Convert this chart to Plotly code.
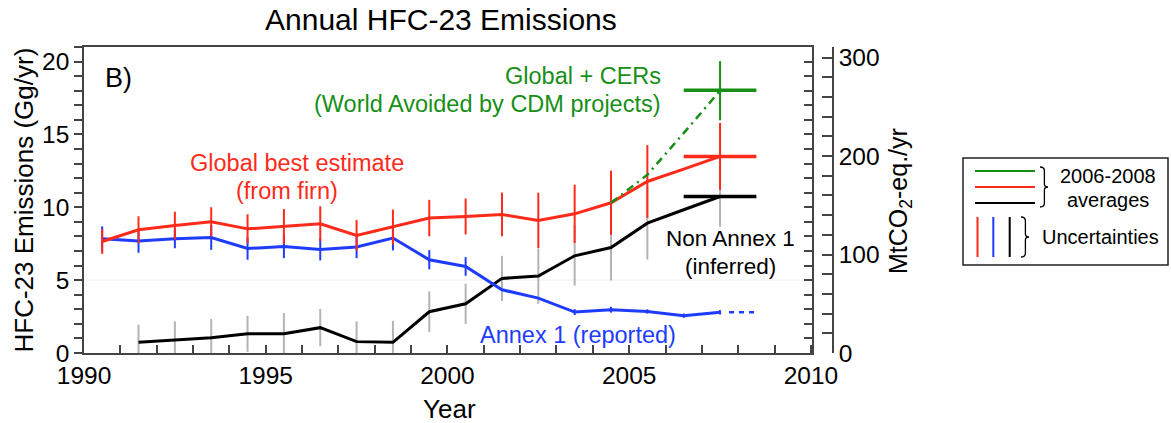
import plotly.graph_objects as go

# ---------------- data ----------------
years = [1990.5, 1991.5, 1992.5, 1993.5, 1994.5, 1995.5, 1996.5, 1997.5, 1998.5,
         1999.5, 2000.5, 2001.5, 2002.5, 2003.5, 2004.5, 2005.5, 2006.5, 2007.5]

global_best = [7.65, 8.46, 8.75, 9.0, 8.52, 8.68, 8.87, 8.07, 8.64,
               9.26, 9.37, 9.51, 9.1, 9.55, 10.31, 11.77, 12.62, 13.49]
global_err = [0.85, 0.92, 0.95, 1.0, 1.0, 1.2, 1.2, 1.05, 1.2,
              1.25, 1.23, 1.5, 1.9, 2.0, 2.2, 2.5, 0, 2.3]

annex1 = [7.84, 7.68, 7.84, 7.93, 7.17, 7.31, 7.11, 7.27, 7.89,
          6.4, 5.94, 4.34, 3.77, 2.81, 2.97, 2.85, 2.56, 2.79]
annex1_err = [0.85, 0.8, 0.65, 0.85, 0.77, 0.8, 0.76, 0.76, 0.85,
              0.66, 0.64, 0, 0, 0.2, 0.2, 0.15, 0.15, 0.15]

non_annex1 = [None, 0.73, 0.89, 1.05, 1.32, 1.32, 1.74, 0.78, 0.73,
              2.83, 3.38, 5.12, 5.28, 6.67, 7.24, 8.91, 9.83, 10.74]
non_annex1_err = [0, 1.21, 1.28, 1.28, 1.24, 1.42, 1.28, 1.39, 1.48,
                  1.4, 1.38, 1.55, 1.9, 2.05, 2.26, 2.5, 0, 2.06]

cer_years = [2004.5, 2005.5, 2006.5, 2007.5]
global_cer = [10.31, 12.23, 15.09, 18.0]
global_cer_err = [0, 0, 0, 2.03]

annex1_ext_years = [2007.5, 2008.5]
annex1_ext = [2.79, 2.79]

avg_years = [2006.5, 2008.5]
avg_cer = 18.04
avg_global = 13.49
avg_non_annex1 = 10.74

GWP = 14.8  # Gg HFC-23 -> MtCO2-eq
y_max = 21.0

RED = "#ff2a1a"
BLUE = "#1e3cff"
GREEN = "#178f17"
BLACK = "#000000"
GRAY = "#b4b4b4"
AX = "#444444"
FONT = "Liberation Sans, Arial, sans-serif"

# ---------------- geometry helpers (layout only) ----------------
W, H = 1171, 423
ML, MR, MT, MB = 84, 200, 47, 70
PW = W - ML - MR
PH = H - MT - MB


def px(xpix):
    return (xpix - ML) / PW


def py(ypix):
    return (H - MB - ypix) / PH


fig = go.Figure()

# Non Annex 1 (black, gray error bars)
fig.add_trace(go.Scatter(
    x=years, y=non_annex1, mode="lines", line=dict(color=BLACK, width=3),
    error_y=dict(type="data", array=non_annex1_err, color=GRAY, thickness=2, width=0),
    showlegend=False, cliponaxis=False))

# Annex 1 (blue)
fig.add_trace(go.Scatter(
    x=years, y=annex1, mode="lines", line=dict(color=BLUE, width=3),
    error_y=dict(type="data", array=annex1_err, color=BLUE, thickness=2, width=0),
    showlegend=False))
fig.add_trace(go.Scatter(
    x=annex1_ext_years, y=annex1_ext, mode="lines",
    line=dict(color=BLUE, width=2.5, dash="0px,9px,5px,5px,5px,5px,5px,5px,5px,100px"),
    showlegend=False))

# Global best estimate (red)
fig.add_trace(go.Scatter(
    x=years, y=global_best, mode="lines", line=dict(color=RED, width=3),
    error_y=dict(type="data", array=global_err, color=RED, thickness=2, width=0),
    showlegend=False))

# Global + CERs (green dash-dot)
fig.add_trace(go.Scatter(
    x=cer_years, y=global_cer, mode="lines",
    line=dict(color=GREEN, width=2.5, dash="8px,5px,2px,5px"),
    error_y=dict(type="data", array=global_cer_err, color=GREEN, thickness=2, width=0),
    showlegend=False))

# 2006-2008 averages
for val, col in [(avg_cer, GREEN), (avg_global, RED), (avg_non_annex1, BLACK)]:
    fig.add_trace(go.Scatter(
        x=avg_years, y=[val, val], mode="lines", line=dict(color=col, width=3.5),
        showlegend=False))

# faint line at 5
fig.add_shape(type="line", xref="x", yref="y", x0=1990, x1=2010.03, y0=5, y1=5,
              line=dict(color="#efefef", width=1), layer="below")

xdom = [0, px(812)]

fig.update_layout(
    width=W, height=H,
    margin=dict(l=ML, r=MR, t=MT, b=MB),
    paper_bgcolor="white", plot_bgcolor="white",
    font=dict(family=FONT, color="black", size=24),
    xaxis=dict(
        domain=xdom, range=[1990, 2010.03], dtick=5, tick0=1990,
        ticks="inside", ticklen=8, tickwidth=1.5, tickcolor=AX,
        minor=dict(dtick=1, ticks="inside", ticklen=8, tickwidth=1.5, tickcolor=AX),
        showline=True, linecolor=AX, linewidth=1.5, mirror=True,
        showgrid=False, zeroline=False, tickfont=dict(size=24.5),
    ),
    yaxis=dict(
        range=[0, y_max], dtick=5, tick0=0,
        ticks="outside", ticklen=8, tickwidth=1.5, tickcolor=AX,
        minor=dict(dtick=1, ticks="outside", ticklen=8, tickwidth=1.5, tickcolor=AX),
        showline=True, linecolor=AX, linewidth=1.5,
        showgrid=False, zeroline=False, tickfont=dict(size=24.5),
    ),
    yaxis3=dict(
        range=[0, y_max], overlaying="y", side="right", anchor="x",
        dtick=1, ticks="inside", ticklen=8, tickwidth=1.5, tickcolor=AX,
        showticklabels=False, showline=True, linecolor=AX, linewidth=1.5,
        showgrid=False, zeroline=False,
    ),
    yaxis2=dict(
        range=[0, y_max * GWP], overlaying="y", side="right", anchor="free",
        position=px(833), dtick=100, tick0=0,
        ticks="inside", ticklen=10, tickwidth=1.5, tickcolor=AX,
        minor=dict(dtick=20, ticks="inside", ticklen=10, tickwidth=1.5, tickcolor=AX),
        showline=True, linecolor=AX, linewidth=1.5,
        showgrid=False, zeroline=False, tickfont=dict(size=24.5),
    ),
)

# invisible traces to activate extra axes
fig.add_trace(go.Scatter(x=[1990], y=[0], yaxis="y2", mode="lines",
                         line=dict(width=0), showlegend=False, hoverinfo="skip"))
fig.add_trace(go.Scatter(x=[1990], y=[0], yaxis="y3", mode="lines",
                         line=dict(width=0), showlegend=False, hoverinfo="skip"))

ann = []


def add_text(text, x, y, size, color="black", xanchor="center", xref="paper", yref="paper",
             angle=0):
    ann.append(dict(text=text, x=x, y=y, xref=xref, yref=yref, showarrow=False,
                    xanchor=xanchor, yanchor="middle", textangle=angle,
                    font=dict(size=size, color=color, family=FONT)))


# titles
add_text("Annual HFC-23 Emissions", px(441), py(19), 30)
add_text("Year", px(449), py(409), 26)
add_text("HFC-23 Emissions (Gg/yr)", px(23.5), py(200), 26, angle=-90)
add_text("MtCO<sub>2</sub>-eq./yr", px(900), py(201), 25, angle=-90)

# in-plot labels (data coordinates)
add_text("B)", 1990.96, 18.89, 27, xref="x", yref="y")
add_text("Global + CERs", 2005.93, 19.02, 23.5, GREEN, xanchor="right", xref="x", yref="y")
add_text("(World Avoided by CDM projects)", 2005.93, 17.1, 23.5, GREEN, xanchor="right",
         xref="x", yref="y")
add_text("Global best estimate", 1995.86, 13.05, 23.5, RED, xref="x", yref="y")
add_text("(from firn)", 1995.59, 11.15, 23.5, RED, xref="x", yref="y")
add_text("Non Annex 1", 2007.8, 7.84, 22.5, BLACK, xref="x", yref="y")
add_text("(inferred)", 2007.8, 5.94, 22.5, BLACK, xref="x", yref="y")
add_text("Annex 1 (reported)", 2003.59, 1.25, 23.5, BLUE, xref="x", yref="y")

# legend box (drawn)
shapes = []
shapes.append(dict(type="rect", xref="paper", yref="paper", x0=px(963), x1=px(1168),
                   y0=py(265), y1=py(158), line=dict(color="#222222", width=1.5),
                   fillcolor="white"))
for ypix, col in [(171, GREEN), (187, RED), (203, BLACK)]:
    shapes.append(dict(type="line", xref="paper", yref="paper", x0=px(975), x1=px(1035),
                       y0=py(ypix), y1=py(ypix), line=dict(color=col, width=2)))
for xpix, col in [(977.5, RED), (993.3, BLUE), (1009.7, BLACK)]:
    shapes.append(dict(type="line", xref="paper", yref="paper", x0=px(xpix), x1=px(xpix),
                       y0=py(217), y1=py(257), line=dict(color=col, width=2)))


def brace(x0, ytop, ybot, w=8):
    ym = (ytop + ybot) / 2
    xm = x0 + w * 0.55
    pts = [
        f"M {px(x0)},{py(ytop)}",
        f"Q {px(xm)},{py(ytop)} {px(xm)},{py(ytop + 4)}",
        f"L {px(xm)},{py(ym - 3)}",
        f"Q {px(xm)},{py(ym)} {px(x0 + w)},{py(ym)}",
        f"Q {px(xm)},{py(ym)} {px(xm)},{py(ym + 3)}",
        f"L {px(xm)},{py(ybot - 4)}",
        f"Q {px(xm)},{py(ybot)} {px(x0)},{py(ybot)}",
    ]
    return dict(type="path", xref="paper", yref="paper", path=" ".join(pts),
                line=dict(color="black", width=1.3))


shapes.append(brace(1040, 167, 207))
shapes.append(brace(1021, 217, 257))

add_text("2006-2008", px(1108), py(176), 20)
add_text("averages", px(1108), py(200), 20)
add_text("Uncertainties", px(1100.5), py(236.5), 20)

fig.update_layout(annotations=ann, shapes=list(fig.layout.shapes) + shapes)

fig.write_html("out.html",
               config={"displayModeBar": False},
               post_script="document.body.style.margin='0px';document.body.style.overflow='hidden';")
